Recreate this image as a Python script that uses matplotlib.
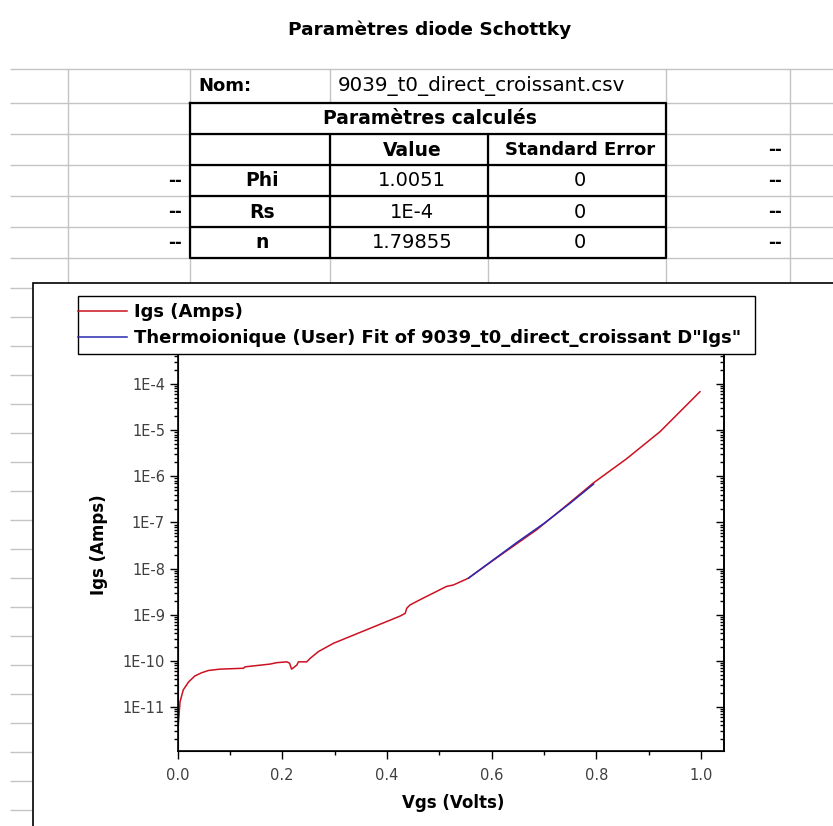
import numpy as np
import matplotlib
matplotlib.use('Agg')
import matplotlib.pyplot as plt
from matplotlib.patches import Rectangle
from matplotlib.ticker import LogLocator, FuncFormatter, MultipleLocator, NullFormatter, FormatStrFormatter

plt.rcParams['font.family'] = ['DejaVu Sans']

vgs = [0.000, 0.0015, 0.0048, 0.011, 0.021, 0.033, 0.046, 0.059, 0.081, 0.126,
       0.129, 0.177, 0.189, 0.209, 0.214, 0.218, 0.228, 0.231, 0.247, 0.253,
       0.269, 0.298, 0.361, 0.425, 0.435, 0.438, 0.444, 0.463, 0.514, 0.527,
       0.556, 0.565, 0.622, 0.686, 0.731, 0.756, 0.794, 0.858, 0.922, 0.998]
igs = [1.66e-12, 4.1e-12, 1.29e-11, 2.34e-11, 3.47e-11, 4.68e-11, 5.5e-11, 6.17e-11, 6.6e-11, 6.9e-11,
       7.4e-11, 8.5e-11, 9.1e-11, 9.5e-11, 8.9e-11, 6.6e-11, 8.1e-11, 9.5e-11, 9.5e-11, 1.12e-10,
       1.58e-10, 2.4e-10, 4.7e-10, 9.3e-10, 1.07e-9, 1.38e-9, 1.62e-9, 2.1e-9, 4.1e-9, 4.4e-9,
       6.2e-9, 7.4e-9, 2.14e-8, 6.9e-8, 1.8e-7, 3.1e-7, 7.1e-7, 2.4e-6, 9.3e-6, 6.8e-5]

# Fit thermoionique
vgs_fit = [0.556, 0.600, 0.650, 0.700, 0.750, 0.795]
igs_fit = [6.2e-9, 1.45e-8, 3.8e-8, 9.5e-8, 2.6e-7, 6.8e-7]

# Tableau des paramètres
nom_fichier = '9039_t0_direct_croissant.csv'
param_noms = ['Phi', 'Rs', 'n']
param_valeurs = ['1.0051', '1E-4', '1.79855']
param_erreurs = ['0', '0', '0']

label_mesure = 'Igs (Amps)'
label_fit = 'Thermoionique (User) Fit of 9039_t0_direct_croissant D"Igs"'

W, H = 833, 826
fig = plt.figure(figsize=(W / 100, H / 100), dpi=100)

# --- fond type feuille de calcul (coordonnées pixels) ---
bg = fig.add_axes([0, 0, 1, 1])
bg.set_xlim(0, W)
bg.set_ylim(H, 0)
bg.axis('off')

grille = '#c4c4c4'
lignes = [69, 103, 134, 165, 196, 227, 258]
bg.hlines(lignes, 10, W, color=grille, lw=1)
bg.vlines([68, 190, 666, 790], 69, 283, color=grille, lw=1)
bg.vlines(330, 69, 103, color=grille, lw=1)
bg.vlines([330, 488], 134, 283, color=grille, lw=1)
bg.hlines(np.arange(288, H, 29), 10, 33, color=grille, lw=1)

# tableau encadré
noir = 'black'
bg.plot([190, 666, 666, 190, 190], [103, 103, 258, 258, 103], color=noir, lw=1.6)
bg.hlines([134, 165, 196, 227], 190, 666, color=noir, lw=1.6)
bg.vlines([330, 488], 134, 258, color=noir, lw=1.6)

bg.text(430, 30, 'Paramètres diode Schottky', ha='center', va='center', fontsize=13.3, fontweight='bold')
bg.text(198, 86, 'Nom:', ha='left', va='center', fontsize=13, fontweight='bold')
bg.text(338, 86, nom_fichier, ha='left', va='center', fontsize=14.3)
bg.text(430, 119, 'Paramètres calculés', ha='center', va='center', fontsize=13.5, fontweight='bold')
bg.text(412, 150, 'Value', ha='center', va='center', fontsize=13.5, fontweight='bold')
bg.text(580, 150, 'Standard Error', ha='center', va='center', fontsize=13, fontweight='bold')
bg.text(775, 150, '--', ha='center', va='center', fontsize=12, fontweight='bold')
for i, y in enumerate([181, 212, 243]):
    bg.text(175, y, '--', ha='center', va='center', fontsize=12, fontweight='bold')
    bg.text(262, y, param_noms[i], ha='center', va='center', fontsize=13.5, fontweight='bold')
    bg.text(412, y, param_valeurs[i], ha='center', va='center', fontsize=14)
    bg.text(580, y, param_erreurs[i], ha='center', va='center', fontsize=14)
    bg.text(775, y, '--', ha='center', va='center', fontsize=12, fontweight='bold')

# cadre du graphe
bg.add_patch(Rectangle((33, 283), 900, 700, facecolor='white', edgecolor=noir, lw=1.2, zorder=3))
# cadre de la légende
bg.add_patch(Rectangle((78, 296), 677, 58, facecolor='white', edgecolor=noir, lw=1.0, zorder=4))

# --- graphe ---
x0, x1, y0, y1 = 177.5, 724, 355, 751
ax = fig.add_axes([x0 / W, 1 - y1 / H, (x1 - x0) / W, (y1 - y0) / H])
ax.set_facecolor('none')

l1, = ax.plot(vgs, igs, color='#cc1122', lw=1.1)
l2, = ax.plot(vgs_fit, igs_fit, color='#2a2ab0', lw=1.1)

ax.set_yscale('log')
ax.set_xlim(0, 1.044)
ax.set_ylim(1.11e-12, 4.25e-4)

fmt_log = FuncFormatter(lambda v, p: '1E%d' % round(np.log10(v)))
ax.yaxis.set_major_locator(LogLocator(base=10, numticks=20))
ax.yaxis.set_minor_locator(LogLocator(base=10, subs=np.arange(2, 10), numticks=20))
ax.yaxis.set_major_formatter(fmt_log)
ax.yaxis.set_minor_formatter(NullFormatter())
ax.xaxis.set_major_locator(MultipleLocator(0.2))
ax.xaxis.set_minor_locator(MultipleLocator(0.1))
ax.xaxis.set_major_formatter(FormatStrFormatter('%.1f'))

ax.tick_params(which='both', direction='out', width=1, labelsize=10.5, labelcolor='#404040', top=False, right=False)
ax.tick_params(which='major', length=6)
ax.tick_params(which='minor', length=3)
ax.tick_params(axis='x', which='major', pad=6)
ax.tick_params(axis='y', which='major', pad=3)
ax.spines['top'].set_visible(False)
for s in ['left', 'bottom', 'right']:
    ax.spines[s].set_linewidth(1.2)

# axe de droite, graduations vers l'intérieur
axr = ax.twinx()
axr.set_yscale('log')
axr.set_ylim(ax.get_ylim())
axr.yaxis.set_major_locator(LogLocator(base=10, numticks=20))
axr.yaxis.set_minor_locator(LogLocator(base=10, subs=np.arange(2, 10), numticks=20))
axr.yaxis.set_major_formatter(NullFormatter())
axr.yaxis.set_minor_formatter(NullFormatter())
axr.tick_params(which='both', direction='in', width=1)
axr.tick_params(which='major', length=6)
axr.tick_params(which='minor', length=3)
axr.spines['top'].set_visible(False)
axr.spines['right'].set_linewidth(1.2)

ax.set_xlabel('Vgs (Volts)', fontsize=12, fontweight='bold')
ax.set_ylabel('Igs (Amps)', fontsize=12, fontweight='bold')
ax.xaxis.set_label_coords((453 - x0) / (x1 - x0), -(794 - y1) / (y1 - y0))
ax.yaxis.set_label_coords(-(x0 - 108) / (x1 - x0), (y1 - 545) / (y1 - y0))

axr.legend([l1, l2], [label_mesure, label_fit], loc='upper left',
           bbox_to_anchor=(78 / W, 1 - 303 / H), bbox_transform=fig.transFigure,
           frameon=False, borderpad=0, borderaxespad=0, handlelength=2.7,
           handletextpad=0.4, labelspacing=0.45,
           prop={'weight': 'bold', 'size': 13})

fig.savefig('out.png', dpi=100)
